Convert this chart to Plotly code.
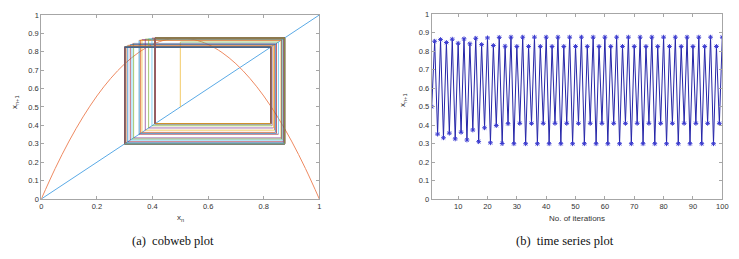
import plotly.graph_objects as go

# ---- data ----
iterations = list(range(1, 101))
early_values = [0.50, 0.853, 0.352, 0.862, 0.332, 0.846, 0.357, 0.864, 0.326, 0.842,
                0.362, 0.866, 0.320, 0.839, 0.374, 0.869, 0.311, 0.835, 0.386, 0.871,
                0.305, 0.830, 0.398, 0.874, 0.301, 0.826, 0.408]
cycle_values = [0.875, 0.300, 0.825, 0.410]  # repeating pattern from n = 28 on
series = early_values + [cycle_values[(n - 28) % 4] for n in range(28, 101)]

map_x = [0, 0.05, 0.1, 0.15, 0.2, 0.25, 0.3, 0.35, 0.4, 0.45, 0.5,
         0.55, 0.6, 0.65, 0.7, 0.75, 0.8, 0.85, 0.9, 0.95, 1.0]
map_y = [0, 0.166, 0.315, 0.446, 0.56, 0.656, 0.735, 0.796, 0.84, 0.866, 0.875,
         0.866, 0.84, 0.796, 0.735, 0.656, 0.56, 0.446, 0.315, 0.166, 0]
diag = [0, 1]

left_xticks = [0, 0.2, 0.4, 0.6, 0.8, 1]
yticks = [0, 0.1, 0.2, 0.3, 0.4, 0.5, 0.6, 0.7, 0.8, 0.9, 1]
right_xticks = [10, 20, 30, 40, 50, 60, 70, 80, 90, 100]

colors = ["#0072BD", "#D95319", "#EDB120", "#7E2F8E", "#77AC30", "#4DBEEE", "#A2142F"]

fig = go.Figure()

# diagonal and map curve
fig.add_trace(go.Scatter(x=diag, y=diag, mode="lines", line=dict(color="#5aaae6", width=1),
                         xaxis="x", yaxis="y", showlegend=False))
fig.add_trace(go.Scatter(x=map_x, y=map_y, mode="lines", line=dict(color="#ee8a62", width=1, shape="spline"),
                         xaxis="x", yaxis="y", showlegend=False))

# cobweb segments, drawn in order so later ones sit on top
segs = []
for i in range(len(series) - 1):
    a, b = series[i], series[i + 1]
    segs.append(([a, a], [a, b]))
    segs.append(([a, b], [b, b]))
for k, (sx, sy) in enumerate(segs):
    c = 2 if k == 0 else (k + 3) % 7
    fig.add_trace(go.Scatter(x=sx, y=sy, mode="lines",
                             line=dict(color=colors[c], width=0.9), opacity=0.75,
                             xaxis="x", yaxis="y", showlegend=False, hoverinfo="skip"))

# time series
fig.add_trace(go.Scatter(x=iterations, y=series, mode="lines+markers",
                         line=dict(color="#2626a8", width=1),
                         marker=dict(symbol="asterisk-open", size=4, color="#3a3ad0",
                                     line=dict(width=1, color="#3a3ad0")),
                         xaxis="x2", yaxis="y2", showlegend=False))

axis_common = dict(showgrid=False, zeroline=False, showline=True, linecolor="#a6a6a6", linewidth=1,
                   mirror="ticks", ticks="inside", ticklen=3, tickcolor="#a6a6a6", automargin=False,
                   tickfont=dict(family="Liberation Sans, Arial", size=7.5, color="#333333"))

ylabels = ["0", "0.1", "0.2", "0.3", "0.4", "0.5", "0.6", "0.7", "0.8", "0.9", "1"]

fig.update_layout(
    width=739, height=259, margin=dict(l=0, r=0, t=0, b=0, autoexpand=False),
    paper_bgcolor="white", plot_bgcolor="white",
    xaxis=dict(domain=[0.0559, 0.4321], range=[0, 1], tickvals=left_xticks,
               ticktext=["0", "0.2", "0.4", "0.6", "0.8", "1"], anchor="y", **axis_common),
    yaxis=dict(domain=[0.2317, 0.9421], range=[0, 1], tickvals=yticks,
               ticktext=ylabels, anchor="x", **axis_common),
    xaxis2=dict(domain=[0.5842, 0.9774], range=[1, 100], tickvals=right_xticks, anchor="y2", **axis_common),
    yaxis2=dict(domain=[0.2305, 0.9459], range=[0, 1], tickvals=yticks,
                ticktext=ylabels, anchor="x2", **axis_common),
)

lab_font = dict(family="Liberation Sans, Arial", size=8, color="#333333")
cap_font = dict(family="Liberation Serif, Times New Roman", size=12.5, color="#111111")
ann = [
    dict(x=180, y=218, text="x<sub>n</sub>", font=lab_font),
    dict(x=15, y=102, text="x<sub>n+1</sub>", font=lab_font, textangle=-90),
    dict(x=577, y=218, text="No. of iterations", font=lab_font),
    dict(x=403, y=100, text="x<sub>n+1</sub>", font=lab_font, textangle=-90),
    dict(x=173, y=241, text="(a)  cobweb plot", font=cap_font),
    dict(x=565, y=241, text="(b)  time series plot", font=cap_font),
]
for a in ann:
    fig.add_annotation(x=a["x"] / 739, y=1 - a["y"] / 259, xref="paper", yref="paper",
                       text=a["text"], font=a["font"], showarrow=False,
                       textangle=a.get("textangle", 0), xanchor="center", yanchor="middle")

fig.write_html("out.html", config={"displayModeBar": False},
               post_script="document.body.style.margin='0px';document.body.style.overflow='hidden';")
